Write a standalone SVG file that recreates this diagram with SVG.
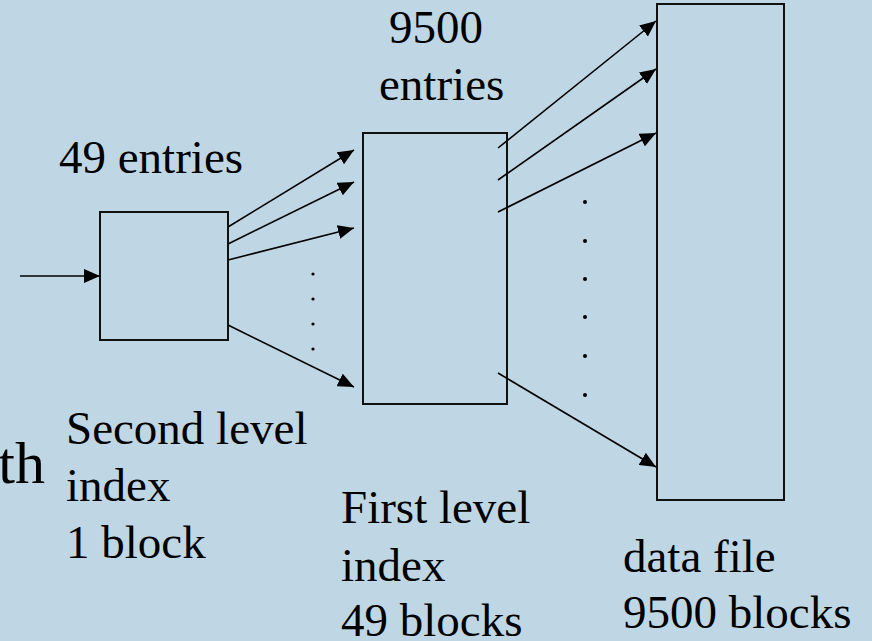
<svg xmlns="http://www.w3.org/2000/svg" width="872" height="641" viewBox="0 0 872 641">
<style>
.box{fill:none;stroke:#111;stroke-width:2}
.ln{stroke:#000;stroke-width:1.6;fill:none;marker-end:url(#ah)}
.dot{fill:#000}
</style>
<defs>
<marker id="ah" markerUnits="userSpaceOnUse" markerWidth="16" markerHeight="14" refX="16" refY="7" orient="auto">
<path d="M0,0 L16,7 L0,14 z" fill="#000"/>
</marker>
</defs>
<rect x="0" y="0" width="872" height="641" fill="#BFD7E4"/>
<g font-family="Liberation Serif, Times New Roman, Tinos, DejaVu Serif, serif" font-size="47" fill="#000">
<text x="45" y="483" text-anchor="end" font-size="60">th</text>
<g id="second-level">
<rect class="box" x="100" y="212" width="128" height="128"/>
<text x="59" y="173">49 entries</text>
<text x="66" y="444">Second level</text>
<text x="66" y="501">index</text>
<text x="66" y="558">1 block</text>
</g>
<g id="first-level">
<rect class="box" x="363" y="133" width="144" height="271"/>
<text x="389" y="43">9500</text>
<text x="379" y="100">entries</text>
<text x="341" y="523">First level</text>
<text x="341" y="581">index</text>
<text x="341" y="636">49 blocks</text>
</g>
<g id="data-file">
<rect class="box" x="657" y="4" width="127" height="496"/>
<text x="623" y="572">data file</text>
<text x="623" y="628">9500 blocks</text>
</g>
</g>
<g id="connectors">
<line class="ln" x1="20" y1="276" x2="100" y2="276"/>
<line class="ln" x1="228" y1="227" x2="354" y2="150"/>
<line class="ln" x1="228" y1="244" x2="354" y2="182"/>
<line class="ln" x1="228" y1="260" x2="354" y2="228"/>
<line class="ln" x1="228" y1="325" x2="354" y2="387"/>
<line class="ln" x1="498" y1="148" x2="656" y2="21"/>
<line class="ln" x1="498" y1="180" x2="656" y2="69"/>
<line class="ln" x1="498" y1="212" x2="656" y2="133"/>
<line class="ln" x1="498" y1="373" x2="656" y2="467"/>
</g>
<g id="dots">
<circle class="dot" cx="313" cy="274" r="1.6"/>
<circle class="dot" cx="313" cy="299" r="1.6"/>
<circle class="dot" cx="313" cy="324" r="1.6"/>
<circle class="dot" cx="313" cy="349" r="1.6"/>
<circle class="dot" cx="585" cy="202" r="2"/>
<circle class="dot" cx="585" cy="241" r="2"/>
<circle class="dot" cx="585" cy="279" r="2"/>
<circle class="dot" cx="585" cy="317" r="2"/>
<circle class="dot" cx="585" cy="356" r="2"/>
<circle class="dot" cx="585" cy="395" r="2"/>
</g>
</svg>
